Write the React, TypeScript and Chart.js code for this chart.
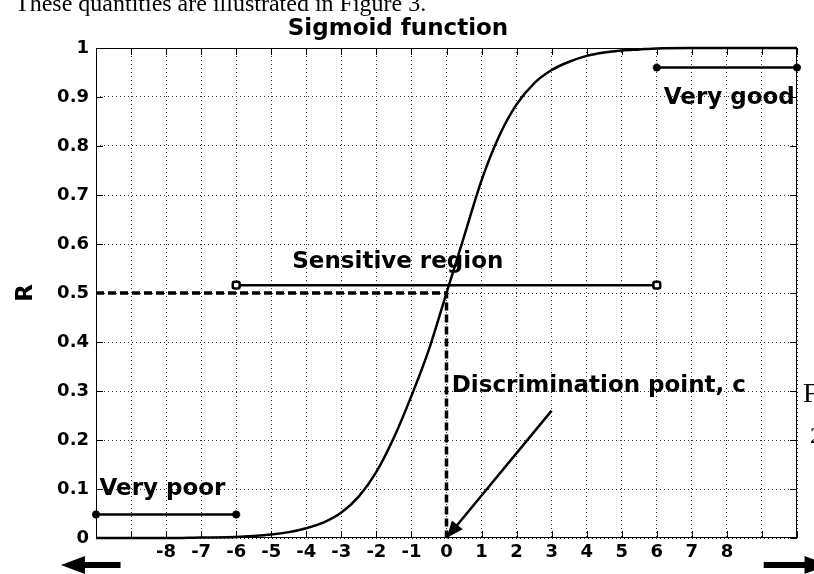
import React, { useEffect, useRef } from "react";
import { Chart, registerables } from "chart.js";

Chart.register(...registerables);

// Sigmoid response R over the stimulus axis
const CURVE_X = [-10, -8, -7, -6, -5.5, -5, -4.5, -4, -3.5, -3, -2.5, -2, -1.5, -1, -0.5, 0, 0.5, 1, 1.5, 2, 2.5, 3, 3.5, 4, 4.5, 5, 5.5, 6, 7, 8, 10];
const CURVE_R = [0, 0, 0.001, 0.002, 0.004, 0.007, 0.012, 0.02, 0.032, 0.052, 0.085, 0.135, 0.205, 0.29, 0.385, 0.5, 0.615, 0.73, 0.82, 0.885, 0.928, 0.955, 0.972, 0.984, 0.991, 0.995, 0.997, 0.999, 1, 1, 1];

// Range bars
const VERY_POOR_X = [-10, -6];
const VERY_POOR_R = [0.048, 0.048];
const SENSITIVE_X = [-6, 6];
const SENSITIVE_R = [0.516, 0.516];
const VERY_GOOD_X = [6, 10];
const VERY_GOOD_R = [0.96, 0.96];

// Dashed guide to the discrimination point
const GUIDE_X = [-10, 0, 0];
const GUIDE_R = [0.5, 0.5, 0];

// Pointer arrow to c
const POINTER_X = [3, 0];
const POINTER_R = [0.26, 0];

// Axes
const X_TICKS = [-10, -9, -8, -7, -6, -5, -4, -3, -2, -1, 0, 1, 2, 3, 4, 5, 6, 7, 8, 9, 10];
const X_TICK_LABELS = ["", "", "-8", "-7", "-6", "-5", "-4", "-3", "-2", "-1", "0", "1", "2", "3", "4", "5", "6", "7", "8", "", ""];
const Y_TICKS = [0, 0.1, 0.2, 0.3, 0.4, 0.5, 0.6, 0.7, 0.8, 0.9, 1];
const Y_TICK_LABELS = ["0", "0.1", "0.2", "0.3", "0.4", "0.5", "0.6", "0.7", "0.8", "0.9", "1"];

// Annotation texts, anchored in data coordinates (left edge, vertical middle)
const NOTE_TEXTS = ["Very good", "Sensitive region", "Very poor", "Discrimination point, c"];
const NOTE_X = [6.2, -4.4, -9.9, 0.15];
const NOTE_R = [0.897, 0.563, 0.1, 0.31];

// Direction arrows under the x axis (x values, tail then tip)
const LEFT_ARROW_X = [-9.3, -11];
const RIGHT_ARROW_X = [9.05, 10.9];

const BOLD = '"DejaVu Sans", sans-serif';
const SERIF = '"Liberation Serif", "Times New Roman", serif';

function drawBlockArrow(ctx: CanvasRenderingContext2D, x0: number, x1: number, yy: number) {
  const dir = Math.sign(x1 - x0);
  const headLen = 24;
  const headHalf = 9;
  const shaftHalf = 3;
  const neck = x1 - dir * headLen;
  ctx.beginPath();
  ctx.moveTo(x0, yy - shaftHalf);
  ctx.lineTo(neck, yy - shaftHalf);
  ctx.lineTo(neck, yy - headHalf);
  ctx.lineTo(x1, yy);
  ctx.lineTo(neck, yy + headHalf);
  ctx.lineTo(neck, yy + shaftHalf);
  ctx.lineTo(x0, yy + shaftHalf);
  ctx.closePath();
  ctx.fill();
}

const decorPlugin = {
  id: "sigmoidDecor",
  afterDraw(chart: any) {
    const { ctx, chartArea: a, scales } = chart;
    const xs = scales.x;
    const ys = scales.y;
    ctx.save();
    ctx.fillStyle = "#000";
    ctx.strokeStyle = "#000";

    // axes box
    ctx.lineWidth = 1;
    ctx.setLineDash([]);
    ctx.strokeRect(a.left + 0.5, a.top + 0.5, a.right - a.left - 1, a.bottom - a.top - 1);

    // inward tick marks on all four sides
    const tl = 7;
    ctx.beginPath();
    X_TICKS.forEach((v) => {
      const px = Math.round(xs.getPixelForValue(v)) + 0.5;
      ctx.moveTo(px, a.bottom);
      ctx.lineTo(px, a.bottom - tl);
      ctx.moveTo(px, a.top);
      ctx.lineTo(px, a.top + tl);
    });
    Y_TICKS.forEach((v) => {
      const py = Math.round(ys.getPixelForValue(v)) + 0.5;
      ctx.moveTo(a.left, py);
      ctx.lineTo(a.left + tl, py);
      ctx.moveTo(a.right, py);
      ctx.lineTo(a.right - tl, py);
    });
    ctx.stroke();

    // arrowhead of the pointer
    const n = POINTER_X.length;
    const tx = xs.getPixelForValue(POINTER_X[n - 1]);
    const ty = ys.getPixelForValue(POINTER_R[n - 1]);
    const fx = xs.getPixelForValue(POINTER_X[n - 2]);
    const fy = ys.getPixelForValue(POINTER_R[n - 2]);
    const ang = Math.atan2(ty - fy, tx - fx);
    const hl = 17;
    const hw = 7;
    ctx.beginPath();
    ctx.moveTo(tx, ty);
    ctx.lineTo(tx - hl * Math.cos(ang) + hw * Math.sin(ang), ty - hl * Math.sin(ang) - hw * Math.cos(ang));
    ctx.lineTo(tx - hl * Math.cos(ang) - hw * Math.sin(ang), ty - hl * Math.sin(ang) + hw * Math.cos(ang));
    ctx.closePath();
    ctx.fill();

    // direction arrows below the axis
    const ay = a.bottom + 27;
    drawBlockArrow(ctx, xs.getPixelForValue(LEFT_ARROW_X[0]), xs.getPixelForValue(LEFT_ARROW_X[1]), ay);
    drawBlockArrow(ctx, xs.getPixelForValue(RIGHT_ARROW_X[0]), xs.getPixelForValue(RIGHT_ARROW_X[1]), ay);

    // annotations
    ctx.font = `bold 23px ${BOLD}`;
    ctx.textAlign = "left";
    ctx.textBaseline = "middle";
    NOTE_TEXTS.forEach((t, i) => {
      ctx.fillText(t, xs.getPixelForValue(NOTE_X[i]), ys.getPixelForValue(NOTE_R[i]));
    });

    // title
    ctx.textAlign = "center";
    ctx.textBaseline = "alphabetic";
    ctx.fillText("Sigmoid function", 398, 35);

    // surrounding page text
    ctx.font = `24px ${SERIF}`;
    ctx.textAlign = "left";
    ctx.fillText("These quantities are illustrated in Figure 3.", 15, 11);
    ctx.font = `28px ${SERIF}`;
    ctx.fillText("F", 803, 402);
    ctx.font = `24px ${SERIF}`;
    ctx.fillText("2", 810, 443);

    ctx.restore();
  },
};

export default function App() {
  const ref = useRef<HTMLCanvasElement | null>(null);

  useEffect(() => {
    if (!ref.current) return;
    const pts = (xs: number[], rs: number[]) => xs.map((x, i) => ({ x, y: rs[i] }));

    const chart = new Chart(ref.current, {
      type: "line",
      data: {
        datasets: [
          {
            label: "R",
            data: pts(CURVE_X, CURVE_R),
            borderColor: "#000",
            borderWidth: 2.5,
            pointRadius: 0,
            cubicInterpolationMode: "monotone",
            clip: false,
          },
          {
            label: "Guide",
            data: pts(GUIDE_X, GUIDE_R),
            borderColor: "#000",
            borderWidth: 3.5,
            borderDash: [8, 4],
            pointRadius: 0,
            tension: 0,
            clip: false,
          },
          {
            label: "Very poor",
            data: pts(VERY_POOR_X, VERY_POOR_R),
            borderColor: "#000",
            borderWidth: 2.5,
            pointStyle: "star",
            pointRadius: 4,
            pointBorderWidth: 2.5,
            pointBorderColor: "#000",
            clip: false,
          },
          {
            label: "Sensitive region",
            data: pts(SENSITIVE_X, SENSITIVE_R),
            borderColor: "#000",
            borderWidth: 2.5,
            pointStyle: "rectRounded",
            pointRadius: 4,
            pointBorderWidth: 2.5,
            pointBorderColor: "#000",
            pointBackgroundColor: "#fff",
            clip: false,
          },
          {
            label: "Very good",
            data: pts(VERY_GOOD_X, VERY_GOOD_R),
            borderColor: "#000",
            borderWidth: 2.5,
            pointStyle: "star",
            pointRadius: 4,
            pointBorderWidth: 2.5,
            pointBorderColor: "#000",
            clip: false,
          },
          {
            label: "Pointer",
            data: pts(POINTER_X, POINTER_R),
            borderColor: "#000",
            borderWidth: 2.5,
            pointRadius: 0,
            clip: false,
          },
        ],
      },
      options: {
        animation: false,
        responsive: false,
        events: [],
        layout: { padding: { top: 48, right: 17, left: 0, bottom: 0 } },
        plugins: {
          legend: { display: false },
          tooltip: { enabled: false },
          title: { display: false },
        },
        scales: {
          x: {
            type: "linear",
            min: -10,
            max: 10,
            afterBuildTicks: (s: any) => {
              s.ticks = X_TICKS.map((v) => ({ value: v }));
            },
            afterFit: (s: any) => {
              s.height = 36;
            },
            ticks: {
              autoSkip: false,
              maxRotation: 0,
              padding: 4,
              color: "#000",
              font: { family: BOLD, size: 18, weight: "bold" },
              callback: (_v: any, i: number) => X_TICK_LABELS[i],
            },
            grid: {
              color: "#333",
              lineWidth: 1,
              drawTicks: false,
            },
            border: { display: false, dash: [1, 3] },
          },
          y: {
            type: "linear",
            min: 0,
            max: 1,
            afterBuildTicks: (s: any) => {
              s.ticks = Y_TICKS.map((v) => ({ value: v }));
            },
            afterFit: (s: any) => {
              s.width = 96;
            },
            ticks: {
              autoSkip: false,
              padding: 7,
              color: "#000",
              font: { family: BOLD, size: 18, weight: "bold" },
              callback: (_v: any, i: number) => Y_TICK_LABELS[i],
            },
            grid: {
              color: "#333",
              lineWidth: 1,
              drawTicks: false,
            },
            border: { display: false, dash: [1, 3] },
            title: {
              display: true,
              text: "R",
              color: "#000",
              font: { family: BOLD, size: 23, weight: "bold" },
              padding: { top: 12, bottom: 0 },
            },
          },
        },
      },
      plugins: [decorPlugin],
    });

    return () => chart.destroy();
  }, []);

  return (
    <div style={{ position: "fixed", left: 0, top: 0, width: 814, height: 574, background: "#fff" }}>
      <canvas ref={ref} width={814} height={574} style={{ display: "block" }} />
    </div>
  );
}
